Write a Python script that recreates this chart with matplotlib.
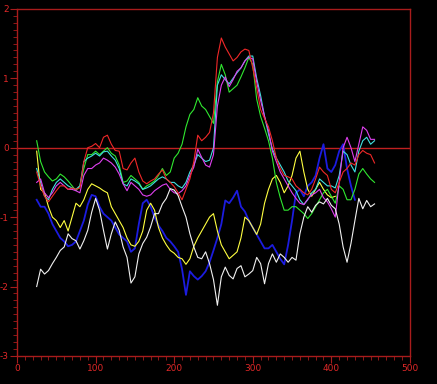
import matplotlib
matplotlib.use("Agg")
import matplotlib.pyplot as plt
from matplotlib.ticker import MultipleLocator

plt.rcParams['axes.unicode_minus'] = False

# day index grid (every 5 days)
days = list(range(25, 460, 5))

red = [-0.35, -0.55, -0.7, -0.78, -0.7, -0.62, -0.55, -0.55, -0.6, -0.58,
       -0.6, -0.58, -0.2, 0.0, 0.02, 0.06, 0.0, 0.15, 0.18, 0.05,
       -0.04, -0.05, -0.3, -0.32, -0.22, -0.15, -0.35, -0.48, -0.52, -0.48,
       -0.45, -0.38, -0.32, -0.45, -0.5, -0.56, -0.65, -0.75, -0.6, -0.45,
       -0.2, 0.18, 0.1, 0.15, 0.22, 0.5, 1.3, 1.58, 1.45, 1.35,
       1.25, 1.3, 1.38, 1.42, 1.4, 1.15, 0.86, 0.55, 0.42, 0.3,
       0.1, -0.15, -0.3, -0.4, -0.42, -0.45, -0.55, -0.6, -0.65, -0.68,
       -0.6, -0.45, -0.28, -0.35, -0.4, -0.6, -0.65, -0.5, -0.35, -0.3,
       -0.22, -0.25, -0.1, -0.04, -0.08, -0.1, -0.22]

green = [0.1, -0.2, -0.35, -0.42, -0.48, -0.45, -0.38, -0.42, -0.48, -0.55,
         -0.62, -0.55, -0.3, -0.1, -0.1, -0.05, -0.1, -0.05, 0.0, -0.08,
         -0.12, -0.25, -0.5, -0.48, -0.4, -0.45, -0.5, -0.6, -0.55, -0.52,
         -0.48, -0.4, -0.3, -0.4, -0.35, -0.15, -0.08, 0.05, 0.3, 0.48,
         0.55, 0.72, 0.6, 0.55, 0.45, 0.35, 0.95, 1.2, 1.05, 0.8,
         0.85, 0.9, 1.02, 1.15, 1.3, 1.2, 0.7, 0.45, 0.28, 0.1,
         -0.15, -0.5, -0.72, -0.9, -0.9, -0.85, -0.85, -0.9, -0.95, -1.02,
         -0.95, -0.85, -0.75, -0.65, -0.6, -0.7, -0.8, -0.55, -0.6, -0.75,
         -0.75, -0.6, -0.38, -0.3, -0.38, -0.45, -0.5]

cyan = [-0.3, -0.5, -0.7, -0.75, -0.6, -0.5, -0.45, -0.5, -0.55, -0.58,
        -0.6, -0.55, -0.2, -0.15, -0.12, -0.08, -0.12, -0.06, -0.05, -0.12,
        -0.18, -0.3, -0.52, -0.55, -0.45, -0.48, -0.52, -0.6, -0.58, -0.55,
        -0.5, -0.45, -0.42, -0.45, -0.5, -0.5, -0.55, -0.58, -0.5, -0.35,
        -0.25, -0.1, -0.15, -0.2, -0.18, 0.0, 0.9, 1.05, 0.98, 0.92,
        1.0, 1.08, 1.15, 1.25, 1.32, 1.32, 1.0, 0.75, 0.45, 0.2,
        -0.02, -0.15, -0.25, -0.35, -0.48, -0.55, -0.62, -0.75, -0.82, -0.75,
        -0.65, -0.6, -0.45, -0.5, -0.55, -0.55, -0.58, -0.4, -0.05, -0.1,
        -0.25, -0.35, -0.05, 0.1, 0.15, 0.05, 0.1]

magenta = [-0.5, -0.45, -0.65, -0.72, -0.65, -0.55, -0.5, -0.55, -0.6, -0.6,
           -0.62, -0.65, -0.4, -0.3, -0.3, -0.25, -0.22, -0.15, -0.18, -0.22,
           -0.28, -0.38, -0.52, -0.62, -0.5, -0.55, -0.6, -0.68, -0.7, -0.68,
           -0.62, -0.58, -0.54, -0.52, -0.6, -0.65, -0.66, -0.62, -0.55, -0.4,
           -0.28, -0.02, -0.14, -0.25, -0.28, -0.1, 0.6, 0.9, 1.02, 0.88,
           0.98, 1.1, 1.15, 1.25, 1.3, 1.28, 0.95, 0.68, 0.45, 0.25,
           -0.05, -0.2, -0.35, -0.45, -0.55, -0.65, -0.73, -0.8, -0.82, -0.74,
           -0.68, -0.65, -0.6, -0.72, -0.78, -0.88, -1.0, -0.5, 0.0, 0.15,
           0.0, -0.2, 0.05, 0.3, 0.25, 0.12, 0.12]

white = [-2.0, -1.75, -1.82, -1.77, -1.67, -1.58, -1.48, -1.43, -1.24, -1.31,
         -1.34, -1.46, -1.34, -1.19, -0.93, -0.73, -0.9, -1.19, -1.46, -1.24,
         -1.07, -1.19, -1.43, -1.58, -1.95, -1.86, -1.53, -1.38, -1.29, -1.14,
         -0.95, -0.95, -0.81, -0.73, -0.59, -0.61, -0.69, -0.85, -1.0, -1.24,
         -1.43, -1.58, -1.6, -1.5, -1.67, -1.9, -2.27, -1.86, -1.72, -1.84,
         -1.89, -1.74, -1.7, -1.86, -1.82, -1.77, -1.58, -1.67, -1.96, -1.67,
         -1.53, -1.65, -1.53, -1.58, -1.65, -1.58, -1.62, -1.24, -1.0, -0.85,
         -0.93, -0.83, -0.78, -0.81, -0.73, -0.83, -0.88, -1.1, -1.43, -1.65,
         -1.38, -1.05, -0.73, -0.88, -0.76, -0.85, -0.81]

yellow = [-0.05, -0.6, -0.65, -0.85, -1.0, -1.05, -1.15, -1.05, -1.2, -1.0,
          -0.8, -0.85, -0.75, -0.6, -0.52, -0.55, -0.58, -0.62, -0.65, -0.85,
          -0.95, -1.05, -1.15, -1.3, -1.4, -1.42, -1.35, -1.2, -0.9, -0.8,
          -0.9, -1.15, -1.3, -1.4, -1.48, -1.52, -1.58, -1.6, -1.68, -1.6,
          -1.42, -1.3, -1.2, -1.1, -1.0, -0.95, -1.2, -1.4, -1.5, -1.6,
          -1.55, -1.5, -1.3, -1.0, -1.05, -1.15, -1.25, -1.1, -0.8, -0.6,
          -0.45, -0.4, -0.5, -0.65, -0.55, -0.4, -0.15, -0.05, -0.35, -0.6,
          -0.7, -0.6, -0.5, -0.6, -0.68, -0.72, -0.7]

blue = [-0.75, -0.85, -0.85, -0.95, -1.1, -1.2, -1.3, -1.35, -1.42, -1.4,
        -1.35, -1.2, -1.05, -0.82, -0.68, -0.7, -0.85, -0.95, -1.0, -1.05,
        -1.15, -1.25, -1.3, -1.35, -1.5, -1.45, -1.1, -0.8, -0.75, -0.85,
        -1.0, -1.12, -1.2, -1.3, -1.35, -1.42, -1.5, -1.75, -2.12, -1.78,
        -1.85, -1.9, -1.85, -1.78, -1.65, -1.48, -1.3, -1.1, -0.76, -0.8,
        -0.72, -0.62, -0.85, -0.92, -1.05, -1.15, -1.25, -1.35, -1.45, -1.45,
        -1.4, -1.5, -1.6, -1.68, -1.4, -1.05, -0.65, -0.6, -0.7, -0.55,
        -0.5, -0.4, -0.15, 0.05, -0.3, -0.35, -0.25, -0.05, 0.05, -0.3,
        -0.55, -0.75]

axis_red = '#a81c1c'
label_red = '#e02828'

fig = plt.figure(figsize=(4.37, 3.84), dpi=100, facecolor='black')
ax = fig.add_axes([0.039, 0.073, 0.899, 0.904], facecolor='black')

ax.axhline(0, color='#c02020', lw=1.0, zorder=1)

ax.plot(days[:len(blue)], blue, color='#1c1ce0', lw=1.3)
ax.plot(days[:len(yellow)], yellow, color='#ffff40', lw=0.8)
ax.plot(days, green, color='#30e830', lw=0.8)
ax.plot(days, cyan, color='#40e0e0', lw=0.8)
ax.plot(days, magenta, color='#e040f0', lw=0.8)
ax.plot(days, red, color='#f02828', lw=0.8)
ax.plot(days, white, color='#f0f0f0', lw=0.8)

ax.set_xlim(0, 500)
ax.set_ylim(-3, 2)
ax.xaxis.set_major_locator(MultipleLocator(100))
ax.xaxis.set_minor_locator(MultipleLocator(10))
ax.yaxis.set_major_locator(MultipleLocator(1))
ax.yaxis.set_minor_locator(MultipleLocator(0.1))

for s in ax.spines.values():
    s.set_color(axis_red)
    s.set_linewidth(1.0)

ax.tick_params(which='major', direction='out', length=5, width=0.8,
               color=axis_red, labelcolor=label_red, labelsize=6.5, pad=1)
ax.tick_params(which='minor', direction='out', length=3, width=0.6,
               color=axis_red)
ax.tick_params(top=False, right=False, which='both')

plt.savefig('out.png', dpi=100, facecolor='black')
